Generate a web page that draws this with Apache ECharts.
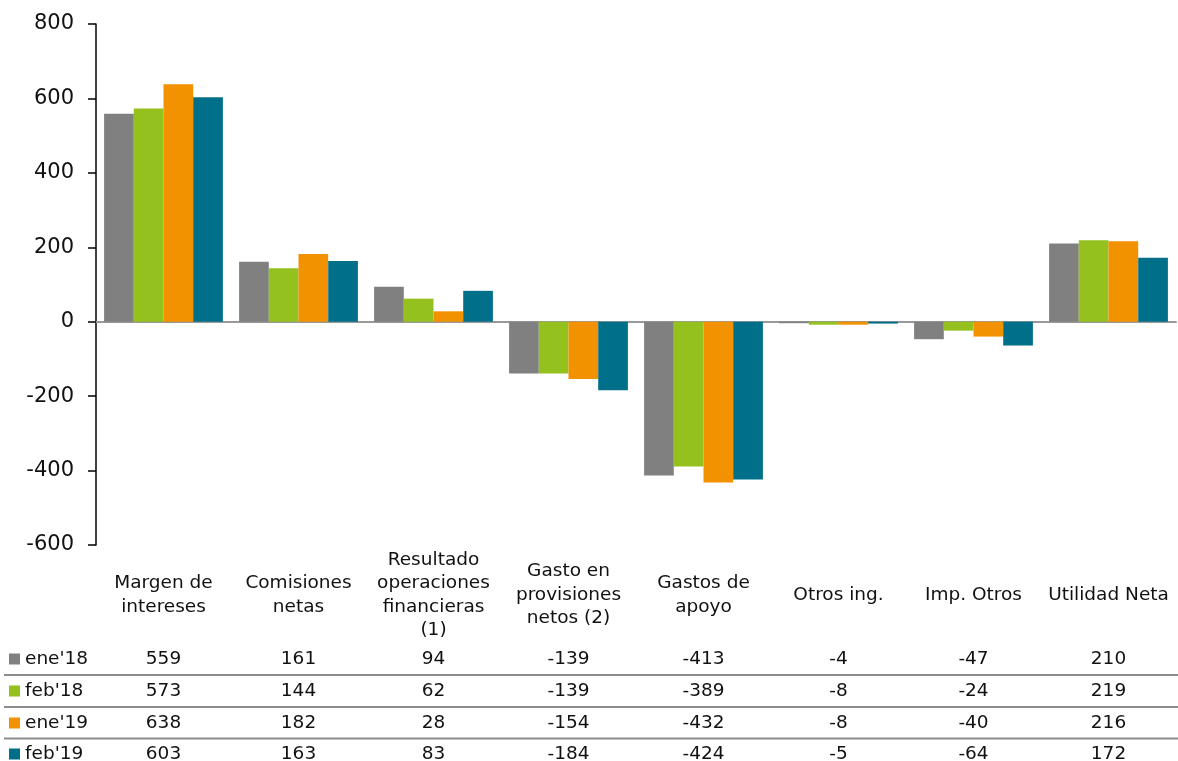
<!DOCTYPE html>
<html>
<head>
<meta charset="utf-8">
<script src="https://cdn.jsdelivr.net/npm/echarts@6/dist/echarts.min.js"></script>
<style>html,body{margin:0;padding:0;background:#fff;overflow:hidden}#c{width:1178px;height:761px}</style>
</head>
<body>
<div id="c"></div>
<script>
var categories = ["Margen de\nintereses", "Comisiones\nnetas", "Resultado\noperaciones\nfinancieras\n(1)", "Gasto en\nprovisiones\nnetos (2)", "Gastos de\napoyo", "Otros ing.", "Imp. Otros", "Utilidad Neta"];
var seriesNames = ["ene'18", "feb'18", "ene'19", "feb'19"];
var ene18 = [559, 161, 94, -139, -413, -4, -47, 210];
var feb18 = [573, 144, 62, -139, -389, -8, -24, 219];
var ene19 = [638, 182, 28, -154, -432, -8, -40, 216];
var feb19 = [603, 163, 83, -184, -424, -5, -64, 172];
var colors = ["#808080", "#95C11F", "#F39200", "#006F8A"];
var yTicks = {min: -600, max: 800, interval: 200};

var allData = [ene18, feb18, ene19, feb19];
var font = "DejaVu Sans, Verdana, sans-serif";
var gridTop = 24, gridBottomY = 545;
var rowCenters = [659, 691, 723, 754];

var chart = echarts.init(document.getElementById('c'));

var xAxes = [
  { // category labels
    type: 'category', data: categories, gridIndex: 0, position: 'bottom',
    axisLine: {show: false, onZero: false}, axisTick: {show: false},
    axisLabel: {interval: 0, margin: 50, verticalAlign: 'middle', fontFamily: font, fontSize: 18.5, lineHeight: 23.5, color: '#111', align: 'center'}
  },
  { // zero line
    type: 'category', data: categories, gridIndex: 0, position: 'bottom',
    axisLine: {show: true, onZero: true, lineStyle: {color: '#999', width: 2}},
    axisTick: {show: false}, axisLabel: {show: false}
  }
];
allData.forEach(function (arr, k) {
  xAxes.push({
    type: 'category', data: categories, gridIndex: 0, position: 'bottom',
    axisLine: {show: false, onZero: false}, axisTick: {show: false},
    axisLabel: {
      interval: 0, margin: rowCenters[k] - gridBottomY, verticalAlign: 'middle',
      fontFamily: font, fontSize: 18.5, color: '#111',
      formatter: (function (a) { return function (v, i) { return String(a[i]); }; })(arr)
    }
  });
});

var legends = seriesNames.map(function (n, k) {
  return {
    data: [n], left: 9, top: rowCenters[k] - 11, padding: 0,
    icon: 'rect', itemWidth: 11, itemHeight: 11, itemGap: 0, itemTextGap: 5,
    selectedMode: false,
    textStyle: {fontFamily: font, fontSize: 18.5, lineHeight: 22, color: '#111'}
  };
});

var series = seriesNames.map(function (n, k) {
  return {
    name: n, type: 'bar', data: allData[k], xAxisIndex: 1, yAxisIndex: 0,
    barGap: '0%', barCategoryGap: '12%',
    itemStyle: {color: colors[k]}
  };
});

var sepGraphics = [];
for (var r = 0; r < rowCenters.length - 1; r++) {
  var y = (rowCenters[r] + rowCenters[r + 1]) / 2;
  sepGraphics.push({
    type: 'line', shape: {x1: 4, y1: y, x2: 1178, y2: y},
    style: {stroke: '#8c8c8c', lineWidth: 2}
  });
}

chart.setOption({
  animation: false,
  backgroundColor: '#fff',
  color: colors,
  grid: {left: 96, right: 2, top: gridTop, bottom: 761 - gridBottomY, containLabel: false, outerBoundsMode: 'none'},
  legend: legends,
  xAxis: xAxes,
  yAxis: {
    type: 'value', min: yTicks.min, max: yTicks.max, interval: yTicks.interval,
    axisLine: {show: true, lineStyle: {color: '#000', width: 1.5}},
    axisTick: {show: true, inside: false, length: 8, lineStyle: {color: '#000', width: 1.5}},
    splitLine: {show: false},
    axisLabel: {margin: 22, fontFamily: font, fontSize: 21, color: '#111'}
  },
  series: series,
  graphic: sepGraphics
});
</script>
</body>
</html>
